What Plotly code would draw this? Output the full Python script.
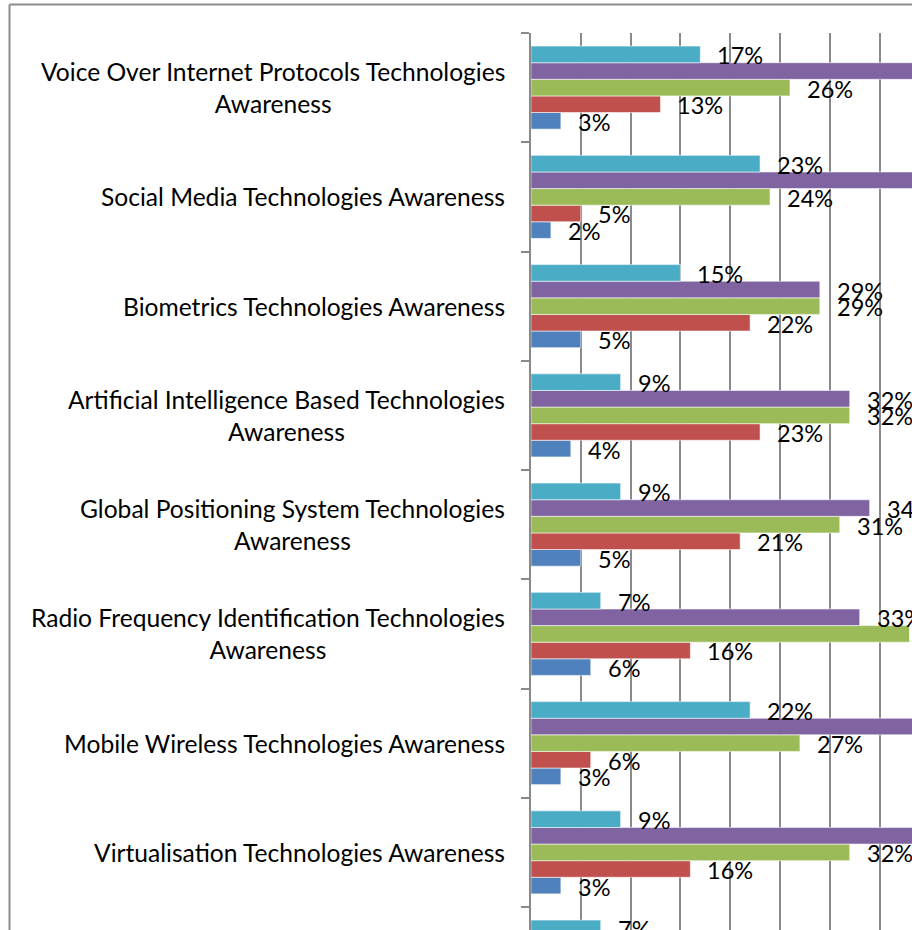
import plotly.graph_objects as go

# Rows from top to bottom; the last row's name falls below the plotted range
categories = [
    "Voice Over Internet Protocols Technologies<br>Awareness",
    "Social Media Technologies Awareness",
    "Biometrics Technologies Awareness",
    "Artificial Intelligence Based Technologies<br>Awareness",
    "Global Positioning System Technologies<br>Awareness",
    "Radio Frequency Identification Technologies<br>Awareness",
    "Mobile Wireless Technologies Awareness",
    "Virtualisation Technologies Awareness",
    None,
]

# Percentages per series (series 1 is the lowest bar of each group)
series_1 = [3, 2, 5, 4, 5, 6, 3, 3, None]
series_2 = [13, 5, 22, 23, 21, 16, 6, 16, None]
series_3 = [26, 24, 29, 32, 31, 38, 27, 32, None]
series_4 = [41, 46, 29, 32, 34, 33, 42, 40, None]
series_5 = [17, 23, 15, 9, 9, 7, 22, 9, 7]

series_names = ["Series 1", "Series 2", "Series 3", "Series 4", "Series 5"]
series_values = [series_1, series_2, series_3, series_4, series_5]
series_colors = ["#4F81BD", "#C0504D", "#9BBB59", "#8064A2", "#4BACC6"]

FONT = "Lato"
FS_VAL = 23.5
FS_CAT = 24.6
n = len(categories)
ypos = [n - 1 - i for i in range(n)]  # top row gets the largest y

BARGAP = 0.24
bar_w = (1 - BARGAP) / len(series_values)

fig = go.Figure()
for name, vals, col in zip(series_names, series_values, series_colors):
    fig.add_trace(go.Bar(
        x=vals, y=ypos, orientation="h", name=name,
        marker=dict(color=col, line=dict(color="rgba(255,255,255,0.55)", width=1)),
        showlegend=False, hoverinfo="skip",
    ))

annotations = []
# value labels just past the end of each bar
for k, vals in enumerate(series_values):
    off = -(1 - BARGAP) / 2 + bar_w * (k + 0.5)
    for v, y in zip(vals, ypos):
        if v is None:
            continue
        annotations.append(dict(
            x=v, y=y + off, xref="x", yref="y", text=f"{v}%",
            showarrow=False, xanchor="left", yanchor="middle",
            xshift=15, yshift=-1,
            font=dict(family=FONT, size=FS_VAL, color="#000000"),
        ))

# category names, centred lines, right edge left of the axis
for name, y in zip(categories, ypos):
    if name is None:
        continue
    annotations.append(dict(
        x=0, y=y, xref="paper", yref="y", text=name, showarrow=False,
        xanchor="right", yanchor="middle", align="center", xshift=-24,
        font=dict(family=FONT, size=FS_CAT, color="#000000"),
    ))

W, H = 912, 930
ML, MT = 531, 33
pw, ph = W - ML, H - MT
px_per_row = 109.25
px_per_pct = 9.96

# chart-area frame (top and left edges)
fx = (9.5 - ML) / pw
fy = (ph - (4.5 - MT)) / ph
shapes = [
    dict(type="line", xref="paper", yref="paper", x0=fx, x1=1.2, y0=fy, y1=fy,
         line=dict(color="#8C8C8C", width=2)),
    dict(type="line", xref="paper", yref="paper", x0=fx, x1=fx, y0=fy, y1=-0.2,
         line=dict(color="#8C8C8C", width=2)),
]

fig.update_layout(
    width=W, height=H,
    margin=dict(l=ML, r=0, t=MT, b=0, pad=0),
    paper_bgcolor="white", plot_bgcolor="white",
    barmode="group", bargap=BARGAP, bargroupgap=0,
    annotations=annotations, shapes=shapes,
    xaxis=dict(range=[0, pw / px_per_pct], dtick=5, tick0=0,
               showgrid=True, gridcolor="#8A8A8A", gridwidth=1.5,
               zeroline=False, showticklabels=False, ticks="", fixedrange=True),
    yaxis=dict(range=[n - 0.5 - ph / px_per_row, n - 0.5],
               showgrid=False, zeroline=False, showticklabels=False,
               showline=True, linecolor="#8A8A8A", linewidth=1.5,
               ticks="outside", ticklen=8, tickcolor="#8A8A8A", tickwidth=1.5,
               tickmode="linear", tick0=0.5, dtick=1, fixedrange=True),
)

fig.write_html("out.html", config={"displayModeBar": False})
